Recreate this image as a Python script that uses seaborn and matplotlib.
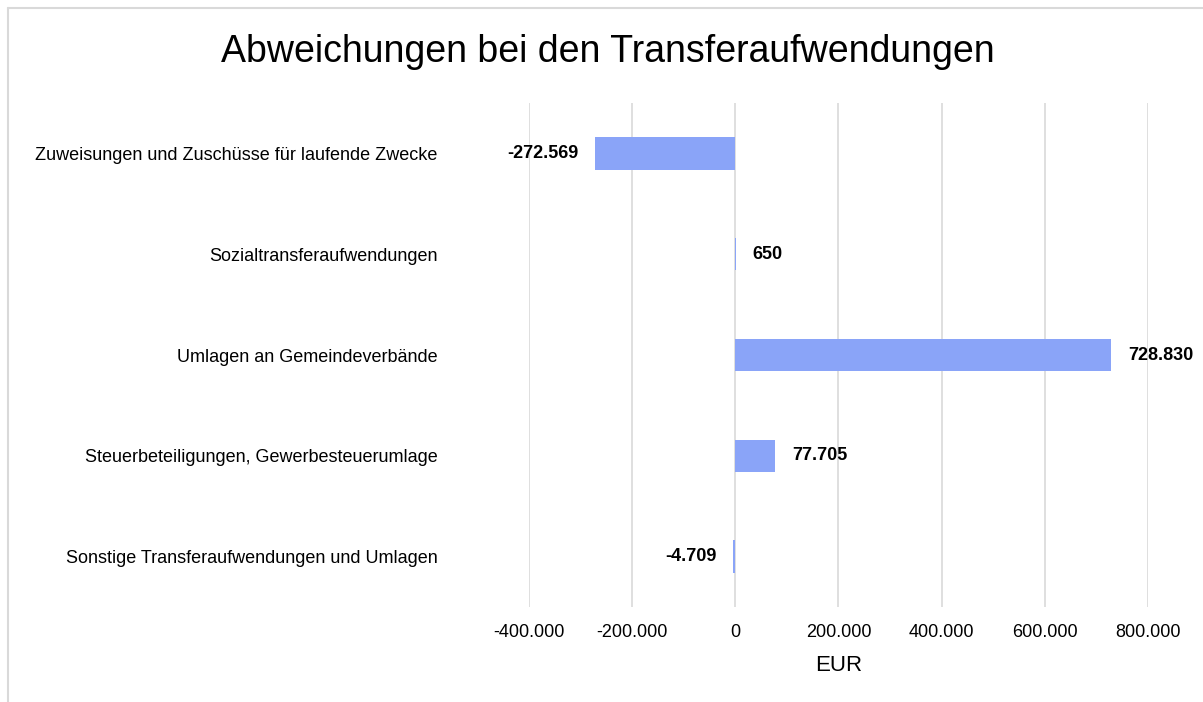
import matplotlib
matplotlib.use("Agg")
import matplotlib.pyplot as plt
import matplotlib.lines as mlines
from matplotlib.ticker import FuncFormatter
import pandas as pd
import seaborn as sns

categories = [
    "Zuweisungen und Zuschüsse für laufende Zwecke",
    "Sozialtransferaufwendungen",
    "Umlagen an Gemeindeverbände",
    "Steuerbeteiligungen, Gewerbesteuerumlage",
    "Sonstige Transferaufwendungen und Umlagen",
]
deviations = [-272569, 650, 728830, 77705, -4709]
x_ticks = [-400000, -200000, 0, 200000, 400000, 600000, 800000]

title = "Abweichungen bei den Transferaufwendungen"
x_label = "EUR"
bar_color = "#8aa4f8"
grid_color = "#d9d9d9"


def german_number(v):
    return f"{v:,.0f}".replace(",", ".")


sns.set_theme(style="whitegrid")
plt.rcParams["font.family"] = ["Liberation Sans", "DejaVu Sans"]

df = pd.DataFrame({"category": categories, "value": deviations})

fig = plt.figure(figsize=(12.03, 7.02), dpi=100)
W, H = 1203, 702
ax = fig.add_axes([529 / W, 1 - 607 / H, (1148 - 529) / W, (607 - 103) / H])

sns.barplot(data=df, x="value", y="category", orient="h", color=bar_color,
            width=0.32, saturation=1, linewidth=0, ax=ax)

ax.set_xlim(-400000, 800000)
ax.set_xticks(x_ticks)
ax.xaxis.set_major_formatter(FuncFormatter(lambda v, _: german_number(v)))
ax.tick_params(axis="x", labelsize=13, pad=12, length=0, colors="black")
ax.tick_params(axis="y", labelsize=13, pad=66, length=0, colors="black")
ax.grid(axis="x", color=grid_color, linewidth=1.2)
ax.grid(axis="y", visible=False)
for s in ax.spines.values():
    s.set_visible(False)
ax.set_ylabel("")
ax.set_xlabel(x_label, fontsize=16, color="black", labelpad=10)
ax.set_facecolor("white")

for c in ax.containers:
    ax.bar_label(c, labels=[german_number(v) for v in deviations], padding=12,
                 fontsize=13, fontweight="bold", color="black")

fig.text(608 / W, 1 - 62 / H, title, ha="center", va="baseline", fontsize=27, color="black")

# chart frame (only top and left edges are visible in the crop)
fig.add_artist(mlines.Line2D([7.5 / W, 1], [1 - 7.5 / H, 1 - 7.5 / H], color=grid_color, linewidth=1.5))
fig.add_artist(mlines.Line2D([7.5 / W, 7.5 / W], [1 - 7.5 / H, 0], color=grid_color, linewidth=1.5))

fig.savefig("out.png", dpi=100, facecolor="white")
